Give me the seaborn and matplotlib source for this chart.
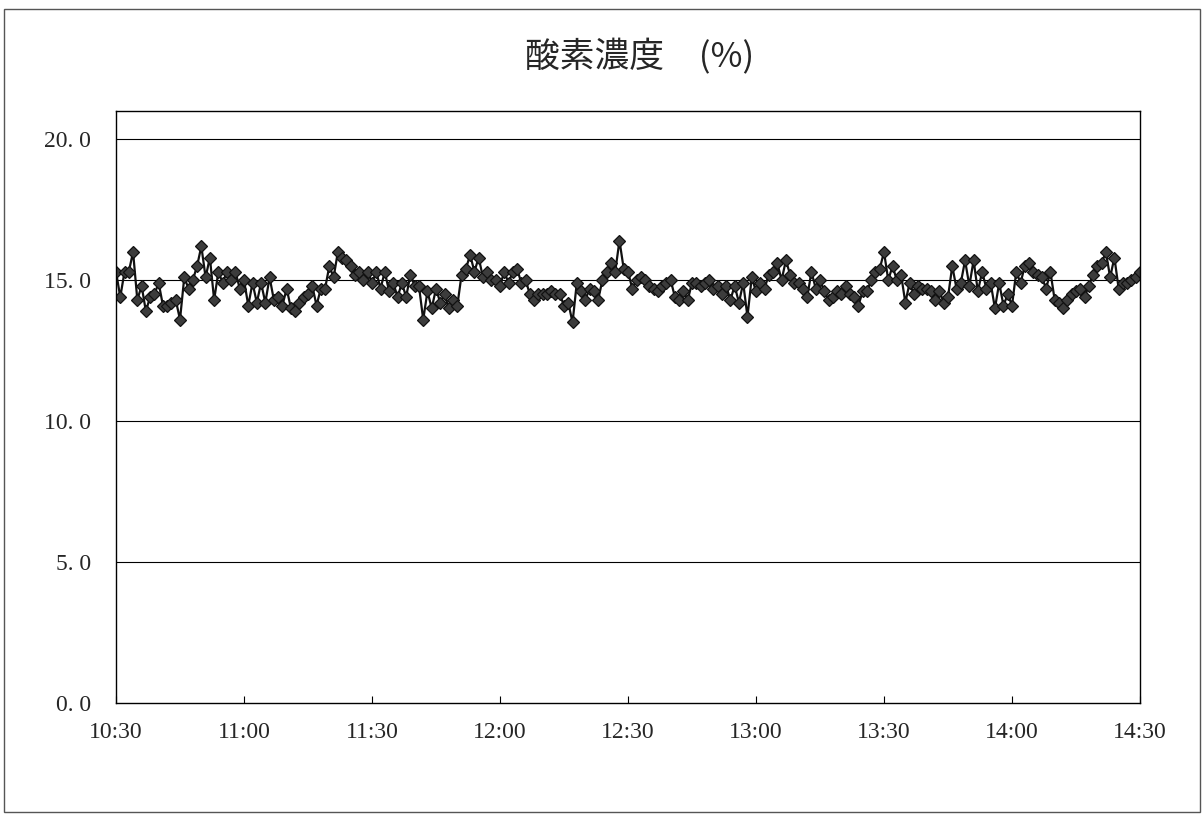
import numpy as np
import pandas as pd
import matplotlib.pyplot as plt
import matplotlib.patches as mpatches
import seaborn as sns

# --- datos: concentración de oxígeno, una lectura por minuto (10:30 - 14:30)
tick_labels = ["10:30", "11:00", "11:30", "12:00", "12:30", "13:00", "13:30", "14:00", "14:30"]
y_ticks = [0.0, 5.0, 10.0, 15.0, 20.0]

oxygen = [
    15.3, 14.4, 15.3, 15.3, 16.0, 14.3, 14.8, 13.9, 14.4, 14.5,   # 10:30
    14.9, 14.1, 14.1, 14.2, 14.3, 13.6, 15.1, 14.7, 15.0, 15.5,   # 10:40
    16.2, 15.1, 15.8, 14.3, 15.3, 14.9, 15.3, 15.0, 15.3, 14.7,   # 10:50
    15.0, 14.1, 14.9, 14.2, 14.9, 14.2, 15.1, 14.3, 14.4, 14.1,   # 11:00
    14.7, 14.0, 13.9, 14.2, 14.4, 14.5, 14.8, 14.1, 14.7, 14.7,   # 11:10
    15.5, 15.1, 16.0, 15.8, 15.7, 15.5, 15.2, 15.3, 15.0, 15.3,   # 11:20
    14.9, 15.3, 14.7, 15.3, 14.6, 14.9, 14.4, 14.9, 14.4, 15.2,   # 11:30
    14.8, 14.8, 13.6, 14.6, 14.0, 14.7, 14.2, 14.5, 14.0, 14.3,   # 11:40
    14.1, 15.2, 15.4, 15.9, 15.3, 15.8, 15.1, 15.3, 15.0, 15.0,   # 11:50
    14.8, 15.3, 14.9, 15.3, 15.4, 14.9, 15.0, 14.5, 14.3, 14.5,   # 12:00
    14.5, 14.5, 14.6, 14.5, 14.5, 14.1, 14.2, 13.5, 14.9, 14.6,   # 12:10
    14.3, 14.7, 14.6, 14.3, 15.0, 15.3, 15.6, 15.3, 16.4, 15.4,   # 12:20
    15.3, 14.7, 15.0, 15.1, 15.0, 14.8, 14.7, 14.6, 14.8, 14.9,   # 12:30
    15.0, 14.4, 14.3, 14.6, 14.3, 14.9, 14.9, 14.8, 14.9, 15.0,   # 12:40
    14.7, 14.8, 14.5, 14.8, 14.3, 14.8, 14.2, 14.9, 13.7, 15.1,   # 12:50
    14.6, 14.9, 14.7, 15.2, 15.3, 15.6, 15.0, 15.7, 15.2, 14.9,   # 13:00
    14.9, 14.7, 14.4, 15.3, 14.7, 15.0, 14.6, 14.3, 14.4, 14.6,   # 13:10
    14.5, 14.8, 14.5, 14.4, 14.1, 14.6, 14.6, 15.0, 15.3, 15.4,   # 13:20
    16.0, 15.0, 15.5, 15.0, 15.2, 14.2, 14.9, 14.5, 14.8, 14.7,   # 13:30
    14.7, 14.6, 14.3, 14.6, 14.2, 14.4, 15.5, 14.7, 14.9, 15.7,   # 13:40
    14.8, 15.7, 14.6, 15.3, 14.7, 14.9, 14.0, 14.9, 14.1, 14.5,   # 13:50
    14.1, 15.3, 14.9, 15.5, 15.6, 15.3, 15.2, 15.1, 14.7, 15.3,   # 14:00
    14.3, 14.2, 14.0, 14.3, 14.5, 14.6, 14.7, 14.4, 14.8, 15.2,   # 14:10
    15.5, 15.6, 16.0, 15.1, 15.8, 14.7, 14.9, 14.9, 15.0, 15.1,   # 14:20
    15.3,                                                           # 14:30
]

minutes = np.arange(len(oxygen))  # minutos desde las 10:30
df = pd.DataFrame({"min": minutes, "o2": oxygen})

sns.set_style("white")
plt.rcParams['font.family'] = ['Liberation Serif', 'Noto Sans CJK JP', 'DejaVu Sans']

fig = plt.figure(figsize=(12.04, 8.14), dpi=100)
ax = fig.add_axes([116 / 1204, 1 - 703 / 814, (1140 - 116) / 1204, (703 - 111) / 814])

# marco exterior de la hoja
fig.patches.append(mpatches.Rectangle((4 / 1204, 1 - 812 / 814), 1196 / 1204, 803 / 814,
                                      transform=fig.transFigure, fill=False,
                                      edgecolor="#555555", linewidth=1.0))

sns.lineplot(data=df, x="min", y="o2", ax=ax, color="#111111", linewidth=1.6,
             marker="D", markersize=6.2, markerfacecolor="#3c3c3c",
             markeredgecolor="#111111", markeredgewidth=0.9)

ax.set_xlim(0, 240)
ax.set_ylim(0, 21)
for yv in y_ticks[1:]:
    ax.axhline(yv, color="black", linewidth=0.8, zorder=0)

ax.set_xticks(np.arange(0, 241, 30))
ax.set_xticklabels(tick_labels, fontsize=17)
ax.set_yticks(y_ticks)
ax.set_yticklabels([f"{v:.1f}".replace(".", ". ") for v in y_ticks], fontsize=17)
ax.tick_params(axis="x", direction="in", length=5, width=0.8, color="black", pad=14, bottom=True)
ax.tick_params(axis="y", length=0, pad=18)
ax.set_xlabel("")
ax.set_ylabel("")

for s in ax.spines.values():
    s.set_color("black")
    s.set_linewidth(1.0)

fig.text(640 / 1204, 1 - 57 / 814, "酸素濃度\u3000(%)", ha="center", va="center",
         fontsize=25, family=['Noto Sans CJK JP', 'DejaVu Sans'])

plt.savefig("out.png", dpi=100)
